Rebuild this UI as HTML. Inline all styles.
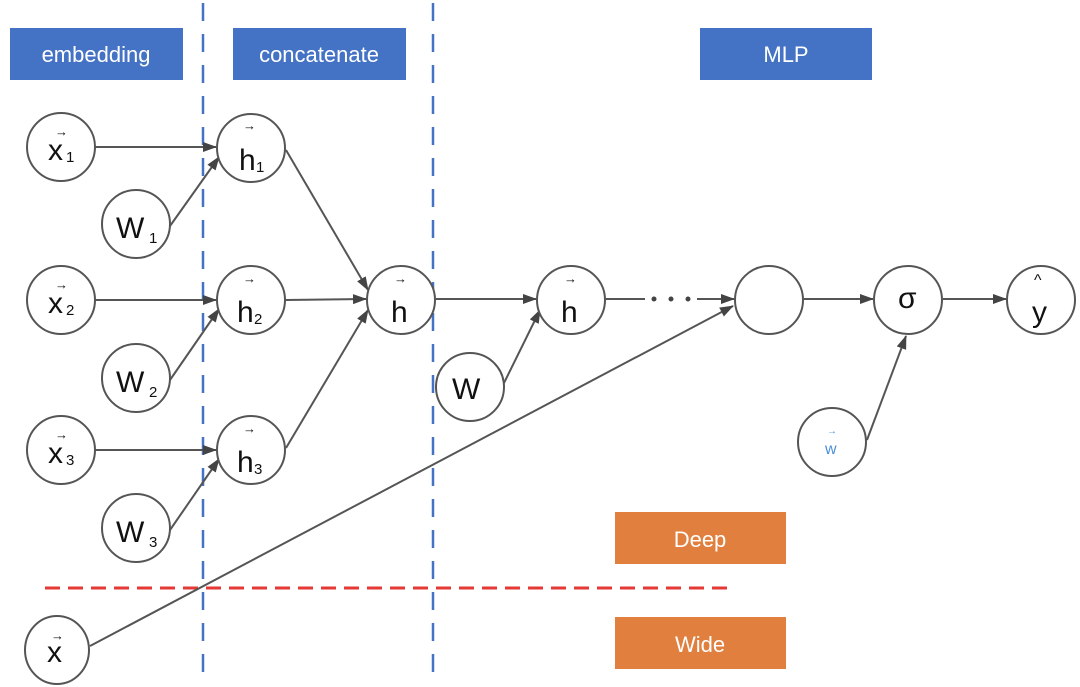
<!DOCTYPE html>
<html><head><style>body{margin:0;background:#fff}svg{display:block}</style></head><body>
<svg width="1080" height="687" viewBox="0 0 1080 687" xmlns="http://www.w3.org/2000/svg" font-family="Liberation Sans, DejaVu Sans, sans-serif">
<defs><marker id="a" markerWidth="14" markerHeight="10" refX="13" refY="5" orient="auto" markerUnits="userSpaceOnUse"><path d="M0,0 L14,5 L0,10 z" fill="#444"/></marker></defs>
<rect x="10" y="28" width="173" height="52" fill="#4472C4"/>
<text x="96" y="62" fill="#fff" font-size="22" text-anchor="middle">embedding</text>
<rect x="233" y="28" width="173" height="52" fill="#4472C4"/>
<text x="319" y="62" fill="#fff" font-size="22" text-anchor="middle">concatenate</text>
<rect x="700" y="28" width="172" height="52" fill="#4472C4"/>
<text x="786" y="62" fill="#fff" font-size="22" text-anchor="middle">MLP</text>
<rect x="615" y="512" width="171" height="52" fill="#E07F3E"/>
<text x="700" y="547" fill="#fff" font-size="22" text-anchor="middle">Deep</text>
<rect x="615" y="617" width="171" height="52" fill="#E07F3E"/>
<text x="700" y="652" fill="#fff" font-size="22" text-anchor="middle">Wide</text>
<g stroke="#4472C4" stroke-width="2.5" stroke-dasharray="18 13"><line x1="203" y1="3" x2="203" y2="685"/><line x1="433" y1="3" x2="433" y2="685"/></g>
<line x1="45" y1="588" x2="728" y2="588" stroke="#E53935" stroke-width="3" stroke-dasharray="15 8"/>
<g stroke="#555" stroke-width="2" fill="none">
<line x1="95" y1="147" x2="216" y2="147" marker-end="url(#a)"/>
<line x1="95" y1="300" x2="216" y2="300" marker-end="url(#a)"/>
<line x1="95" y1="450" x2="216" y2="450" marker-end="url(#a)"/>
<line x1="170" y1="226" x2="219" y2="157" marker-end="url(#a)"/>
<line x1="170" y1="380" x2="219" y2="309" marker-end="url(#a)"/>
<line x1="170" y1="530" x2="219" y2="459" marker-end="url(#a)"/>
<line x1="286" y1="150" x2="368" y2="290" marker-end="url(#a)"/>
<line x1="286" y1="300" x2="366" y2="299" marker-end="url(#a)"/>
<line x1="286" y1="448" x2="368" y2="310" marker-end="url(#a)"/>
<line x1="436" y1="299" x2="536" y2="299" marker-end="url(#a)"/>
<line x1="504" y1="383" x2="540" y2="310" marker-end="url(#a)"/>
<line x1="606" y1="299" x2="645" y2="299"/>
<line x1="697" y1="299" x2="734" y2="299" marker-end="url(#a)"/>
<line x1="90" y1="646" x2="733" y2="306" marker-end="url(#a)"/>
<line x1="804" y1="299" x2="873" y2="299" marker-end="url(#a)"/>
<line x1="943" y1="299" x2="1006" y2="299" marker-end="url(#a)"/>
<line x1="867" y1="440" x2="906" y2="336" marker-end="url(#a)"/>
</g>
<g fill="#444"><circle cx="654" cy="299" r="2.5"/><circle cx="671" cy="299" r="2.5"/><circle cx="688" cy="299" r="2.5"/></g>
<g stroke="#555" stroke-width="2" fill="#fff">
<circle cx="61" cy="147" r="34"/><circle cx="136" cy="224" r="34"/>
<circle cx="61" cy="300" r="34"/><circle cx="136" cy="378" r="34"/>
<circle cx="61" cy="450" r="34"/><circle cx="136" cy="528" r="34"/>
<circle cx="251" cy="148" r="34"/><circle cx="251" cy="300" r="34"/><circle cx="251" cy="450" r="34"/>
<circle cx="401" cy="300" r="34"/><circle cx="571" cy="300" r="34"/><circle cx="470" cy="387" r="34"/>
<circle cx="769" cy="300" r="34"/><circle cx="908" cy="300" r="34"/><circle cx="1041" cy="300" r="34"/>
<circle cx="832" cy="442" r="34"/><ellipse cx="57" cy="650" rx="32" ry="34"/>
</g>
<g fill="#111" font-size="30">
<text x="48" y="160">x</text><text x="66" y="162" font-size="15">1</text><text x="55" y="136" font-size="13">→</text>
<text x="48" y="313">x</text><text x="66" y="315" font-size="15">2</text><text x="55" y="289" font-size="13">→</text>
<text x="48" y="463">x</text><text x="66" y="465" font-size="15">3</text><text x="55" y="439" font-size="13">→</text>
<text x="116" y="238">W</text><text x="149" y="243" font-size="15">1</text>
<text x="116" y="392">W</text><text x="149" y="397" font-size="15">2</text>
<text x="116" y="542">W</text><text x="149" y="547" font-size="15">3</text>
<text x="239" y="170">h</text><text x="256" y="172" font-size="15">1</text><text x="243" y="130" font-size="13">→</text>
<text x="237" y="322">h</text><text x="254" y="324" font-size="15">2</text><text x="243" y="283" font-size="13">→</text>
<text x="237" y="472">h</text><text x="254" y="474" font-size="15">3</text><text x="243" y="433" font-size="13">→</text>
<text x="391" y="322">h</text><text x="394" y="283" font-size="13">→</text>
<text x="561" y="322">h</text><text x="564" y="283" font-size="13">→</text>
<text x="452" y="399">W</text>
<text x="898" y="308">σ</text>
<text x="1032" y="322">y</text><text x="1034" y="285" font-size="16">^</text>
<text x="47" y="662">x</text><text x="51" y="640" font-size="13">→</text>
<text x="825" y="454" font-size="16" fill="#4a90d9">w</text><text x="827" y="434" font-size="10" fill="#4a90d9">→</text>
</g>
</svg>
</body></html>
